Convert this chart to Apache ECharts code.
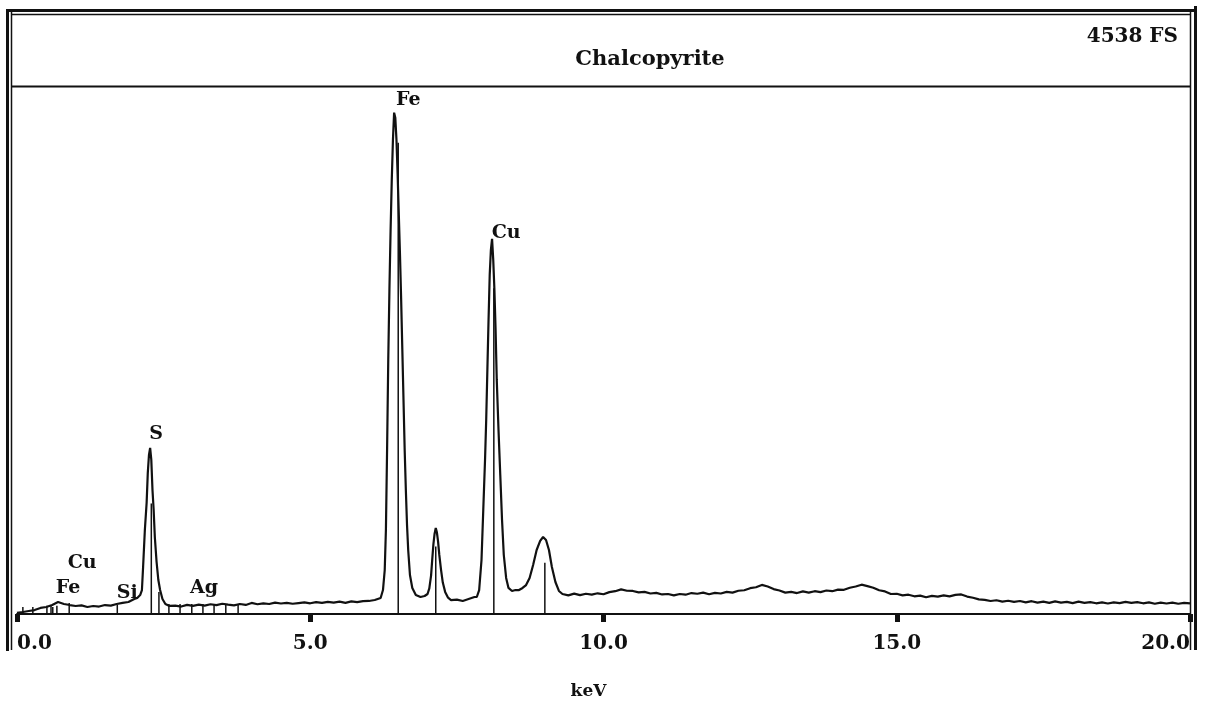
<!DOCTYPE html>
<html>
<head>
<meta charset="utf-8">
<title>Chalcopyrite</title>
<script src="https://cdn.jsdelivr.net/npm/echarts@6/dist/echarts.min.js"></script>
<style>
  html, body { margin: 0; padding: 0; background: #fff; }
  #chart { width: 1211px; height: 706px; }
</style>
</head>
<body>
<div id="chart"></div>
<script>
// spectrum (keV / counts, full scale 4538)
const energy = [
  0.00, 0.10, 0.20, 0.30, 0.40, 0.50, 0.60, 0.70, 0.80, 0.90,
  1.00, 1.10, 1.20, 1.30, 1.40, 1.50, 1.60, 1.70, 1.80, 1.90, 2.00,
  2.05, 2.10, 2.13, 2.15, 2.18, 2.21, 2.23, 2.25, 2.27, 2.29, 2.31, 2.33, 2.35, 2.38, 2.41, 2.44, 2.48, 2.53, 2.60,
  2.70, 2.80, 2.90, 3.00, 3.10, 3.20, 3.30, 3.40, 3.50, 3.60, 3.70, 3.80, 3.90, 4.00, 4.10, 4.20, 4.30, 4.40,
  4.50, 4.60, 4.70, 4.80, 4.90, 5.00, 5.10, 5.20, 5.30, 5.40, 5.50, 5.60, 5.70, 5.80, 5.90, 6.00, 6.10,
  6.20, 6.24, 6.27, 6.29, 6.31, 6.33, 6.35, 6.37, 6.39, 6.41, 6.43, 6.45, 6.47, 6.49, 6.51, 6.53, 6.55, 6.57, 6.59,
  6.61, 6.63, 6.65, 6.67, 6.70, 6.74, 6.80, 6.88, 6.95,
  7.00, 7.03, 7.06, 7.08, 7.10, 7.12, 7.14, 7.16, 7.18, 7.20, 7.23, 7.26, 7.30, 7.35, 7.40, 7.50, 7.60, 7.70, 7.80,
  7.84, 7.88, 7.92, 7.95, 7.98, 8.00, 8.02, 8.04, 8.06, 8.08, 8.10, 8.12, 8.14, 8.16, 8.18, 8.21, 8.24, 8.27,
  8.30, 8.34, 8.38, 8.44, 8.50, 8.56, 8.62, 8.68,
  8.74, 8.80, 8.86, 8.92, 8.97, 9.02, 9.07, 9.12, 9.18, 9.24,
  9.30, 9.40, 9.50, 9.60, 9.70, 9.80, 9.90, 10.00, 10.10, 10.20, 10.30, 10.40, 10.50, 10.60, 10.70, 10.80, 10.90,
  11.00, 11.10, 11.20, 11.30, 11.40, 11.50, 11.60, 11.70, 11.80, 11.90, 12.00, 12.10, 12.20, 12.30, 12.40, 12.50,
  12.60, 12.70, 12.80, 12.90, 13.00, 13.10, 13.20, 13.30, 13.40, 13.50, 13.60, 13.70, 13.80, 13.90, 14.00, 14.10,
  14.20, 14.30, 14.40, 14.50, 14.60, 14.70, 14.80, 14.90, 15.00, 15.10, 15.20, 15.30, 15.40, 15.50, 15.60, 15.70,
  15.80, 15.90, 16.00, 16.10, 16.20, 16.30, 16.40, 16.50, 16.60, 16.70, 16.80, 16.90, 17.00, 17.10, 17.20, 17.30,
  17.40, 17.50, 17.60, 17.70, 17.80, 17.90, 18.00, 18.10, 18.20, 18.30, 18.40, 18.50, 18.60, 18.70, 18.80, 18.90,
  19.00, 19.10, 19.20, 19.30, 19.40, 19.50, 19.60, 19.70, 19.80, 19.90, 20.00
];
const counts = [
  9, 17, 26, 34, 52, 60, 77, 103, 86, 77,
  69, 74, 60, 69, 64, 77, 72, 86, 95, 103, 129,
  138, 163, 206, 404, 722, 954, 1213, 1367, 1428, 1324, 1066, 894, 662, 447, 292, 206, 129, 86, 69,
  72, 64, 78, 70, 80, 72, 84, 76, 88, 80, 74, 86, 78, 95, 84, 92, 86, 98,
  90, 96, 88, 94, 100, 92, 102, 95, 104, 98, 106, 96, 108, 102, 110, 112, 120,
  138, 206, 378, 722, 1410, 2184, 2786, 3302, 3732, 4076, 4309, 4266, 4076, 3775, 3431, 3087, 2700, 2270, 1840,
  1410, 1066, 765, 550, 335, 224, 163, 146, 155,
  172, 220, 330, 470, 600, 690, 739, 700, 620, 510, 380, 270, 190, 140, 120, 124, 112, 129, 146,
  146, 206, 464, 894, 1324, 1668, 2098, 2528, 2915, 3130, 3225, 3044, 2786, 2442, 2012, 1582, 1195, 808,
  507, 310, 224, 198, 206, 206, 224, 249,
  310, 421, 550, 628, 662, 636, 550, 404, 275, 198,
  172, 160, 175, 162, 174, 166, 178, 170, 188, 196, 212, 200, 198, 186, 190, 176, 182,
  168, 172, 160, 172, 166, 180, 174, 184, 170, 182, 176, 190, 184, 200, 204, 222,
  230, 250, 236, 214, 202, 184, 190, 180, 194, 184, 196, 188, 202, 196, 210, 208,
  226, 236, 252, 240, 226, 204, 194, 172, 174, 160, 166, 152, 158, 144, 156, 150,
  160, 152, 164, 168, 150, 140, 126, 122, 112, 118, 106, 114, 104, 112, 100, 110,
  98, 106, 96, 108, 98, 104, 94, 106, 96, 102, 92, 100, 90, 100, 94, 104,
  96, 102, 92, 100, 88, 98, 90, 98, 88, 96, 92
];

// element marker lines (keV / height)
const markerKeV = [0.10, 0.27, 0.51, 0.58, 0.61, 0.68, 0.89, 1.71, 2.29, 2.42,
  2.59, 2.78, 2.98, 3.17, 3.36, 3.56, 3.77, 6.50, 7.14, 8.13, 9.00];
const markerCounts = [60, 60, 70, 70, 60, 70, 95, 80, 950, 190,
  85, 85, 85, 85, 85, 85, 85, 4050, 580, 2800, 440];

// element labels
const labelNames = ['Fe', 'Cu', 'S', 'Cu', 'Fe', 'Si', 'Ag'];
const labelKeV = [6.67, 8.34, 2.37, 1.11, 0.87, 1.88, 3.19];
const labelCounts = [4418, 3275, 1547, 438, 223, 180, 223];

const tickLabels = ['0.0', '5.0', '10.0', '15.0', '20.0'];
const fullScale = 4538;

const font = 'DejaVu Serif';
const ink = '#111';

const chart = echarts.init(document.getElementById('chart'));

const option = {
  backgroundColor: '#fff',
  animation: false,
  grid: { left: 17, right: 21, top: 86, bottom: 92, outerBoundsMode: 'none', containLabel: false },
  xAxis: {
    type: 'value',
    min: 0,
    max: 20,
    interval: 5,
    name: 'keV',
    nameLocation: 'middle',
    nameGap: 69,
    nameTextStyle: { fontFamily: font, fontWeight: 'bold', fontSize: 17, color: ink, padding: [0, 30, 0, 0] },
    axisLine: { lineStyle: { color: ink, width: 2 } },
    axisTick: { length: 8, lineStyle: { color: ink, width: 5 } },
    axisLabel: {
      margin: 20,
      fontFamily: font,
      fontWeight: 'bold',
      fontSize: 20,
      color: ink,
      alignMinLabel: 'left',
      alignMaxLabel: 'right',
      formatter: function (v) { return tickLabels[Math.round(v / 5)]; }
    },
    splitLine: { show: false }
  },
  yAxis: {
    type: 'value',
    min: 0,
    max: fullScale,
    show: false
  },
  graphic: [
    // outer double frame
    { type: 'rect', shape: { x: 6, y: 9, width: 3, height: 642 }, style: { fill: ink } },
    { type: 'line', shape: { x1: 11.5, y1: 12, x2: 11.5, y2: 650 }, style: { stroke: ink, lineWidth: 1.5 } },
    { type: 'rect', shape: { x: 1194, y: 6, width: 3, height: 644 }, style: { fill: ink } },
    { type: 'line', shape: { x1: 1190.5, y1: 12, x2: 1190.5, y2: 650 }, style: { stroke: ink, lineWidth: 1.5 } },
    { type: 'rect', shape: { x: 6, y: 9, width: 1191, height: 3 }, style: { fill: ink } },
    { type: 'line', shape: { x1: 11, y1: 14.5, x2: 1191, y2: 14.5 }, style: { stroke: ink, lineWidth: 1.5 } },
    { type: 'line', shape: { x1: 11, y1: 86.5, x2: 1191, y2: 86.5 }, style: { stroke: ink, lineWidth: 2 } },
    {
      type: 'text', x: 650, y: 60,
      style: { text: 'Chalcopyrite', fontFamily: font, fontWeight: 'bold', fontSize: 21, fill: ink, align: 'center', verticalAlign: 'middle' }
    },
    {
      type: 'text', x: 1178, y: 37,
      style: { text: '4538 FS', fontFamily: font, fontWeight: 'bold', fontSize: 20, fill: ink, align: 'right', verticalAlign: 'middle' }
    }
  ],
  series: [
    {
      type: 'line',
      data: energy.map(function (e, i) { return [e, counts[i]]; }),
      showSymbol: false,
      lineStyle: { color: ink, width: 2.2 },
      z: 3
    },
    {
      type: 'custom',
      data: markerKeV.map(function (e, i) { return [e, markerCounts[i]]; }),
      renderItem: function (params, api) {
        const p0 = api.coord([api.value(0), 0]);
        const p1 = api.coord([api.value(0), api.value(1)]);
        return {
          type: 'line',
          shape: { x1: p0[0], y1: p0[1], x2: p1[0], y2: p1[1] },
          style: { stroke: ink, lineWidth: 1.5 }
        };
      },
      z: 2
    },
    {
      type: 'scatter',
      data: labelKeV.map(function (e, i) { return { value: [e, labelCounts[i]], name: labelNames[i] }; }),
      symbolSize: 0,
      itemStyle: { color: ink, opacity: 1 },
      label: {
        show: true,
        position: 'inside',
        formatter: '{b}',
        fontFamily: font,
        fontWeight: 'bold',
        fontSize: 19,
        color: ink
      },
      z: 4
    }
  ]
};

chart.setOption(option);
window.addEventListener('resize', function () {
  chart.resize();
});
</script>
</body>
</html>
